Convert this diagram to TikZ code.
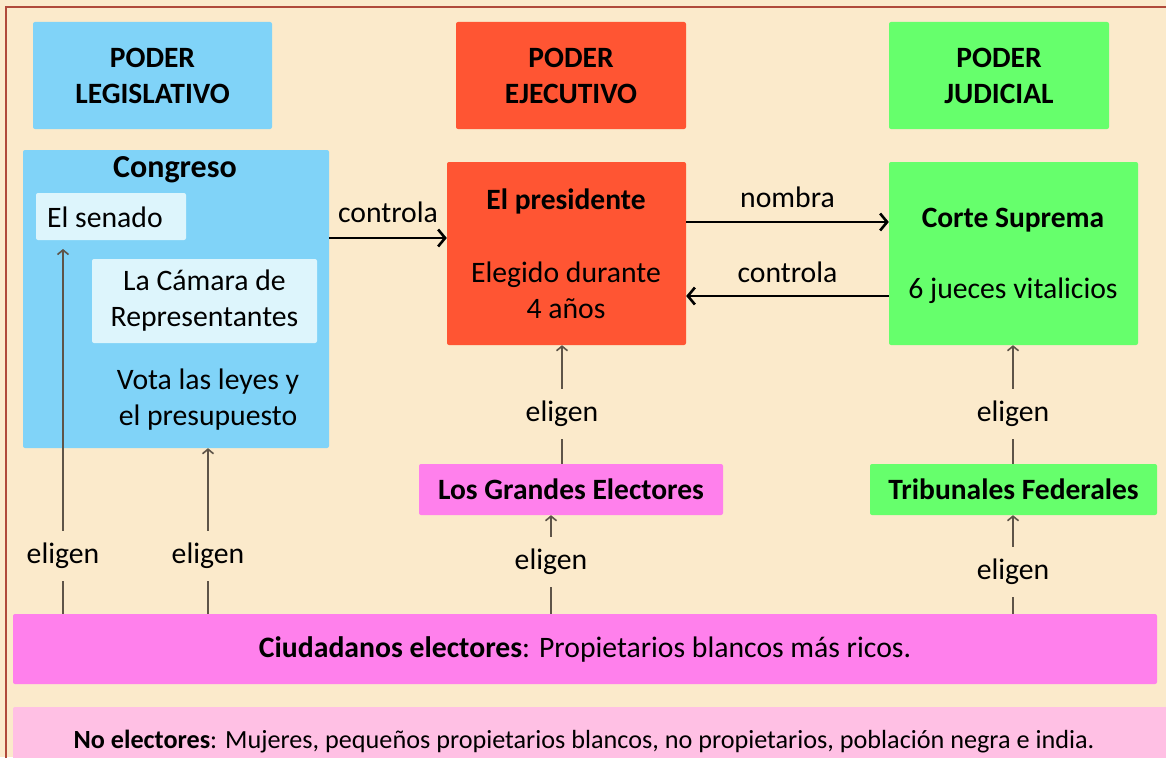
\documentclass[tikz,border=0pt]{standalone}
\usepackage{fontspec}
\setmainfont{Carlito}
\usetikzlibrary{arrows.meta}
\definecolor{bg}{HTML}{FBEACB}
\definecolor{frame}{HTML}{B04A3A}
\definecolor{lblue}{HTML}{80D3F8}
\definecolor{pale}{HTML}{DDF5FC}
\definecolor{pred}{HTML}{FF5533}
\definecolor{pgreen}{HTML}{66FF6C}
\definecolor{pmag}{HTML}{FF80EC}
\definecolor{ppink}{HTML}{FFC0E4}
\definecolor{agray}{HTML}{5E5448}
\tikzset{
  box/.style={rectangle, inner sep=0pt, align=center, rounded corners=2pt},
  body/.style={font=\fontsize{29.7}{36}\selectfont, align=center, inner sep=0pt},
  head/.style={font=\fontsize{29.5}{36}\selectfont\bfseries, align=center, inner sep=0pt},
  blk/.style={line width=2.6pt, -{Straight Barb[length=7pt,width=17pt]}},
  elig/.style={line width=1.6pt, draw=agray, -{Straight Barb[length=4.5pt,width=11pt]}},
  lab/.style={body, fill=bg, inner xsep=3pt, inner ysep=12pt},
}
\begin{document}
\begin{tikzpicture}[x=1pt,y=-1pt]
\useasboundingbox (0,0) rectangle (1166,757);
\fill[bg] (0,0) rectangle (1166,757);
\draw[frame, line width=1.5pt] (6,7) rectangle (1185,780);
% headers
\node[box, fill=lblue, minimum width=239pt, minimum height=107pt, head] (hL) at (152.5,75.5) {PODER\\LEGISLATIVO};
\node[box, fill=pred, minimum width=230pt, minimum height=107pt, head] (hE) at (571,75.5) {PODER\\EJECUTIVO};
\node[box, fill=pgreen, minimum width=220pt, minimum height=107pt, head] (hJ) at (999,75.5) {PODER\\JUDICIAL};
% congreso
\node[box, fill=lblue, minimum width=306pt, minimum height=298pt] (cong) at (176,299) {};
\node[head, font=\fontsize{32}{36}\selectfont\bfseries] (congT) at (175,170) {Congreso};
\node[box, fill=pale, minimum width=150pt, minimum height=47pt] (sen) at (111,216.5) {};
\node[body, anchor=west] (senT) at (47,217) {El senado};
\node[box, fill=pale, minimum width=225pt, minimum height=84pt, body] (cam) at (204.5,301) {La Cámara de\\Representantes};
\node[body] (vota) at (208,400) {Vota las leyes y\\el presupuesto};
% presidente
\node[box, fill=pred, minimum width=239pt, minimum height=183pt] (pres) at (566.5,253.5) {};
\node[head] (presT) at (566,201) {El presidente};
\node[body] (presB) at (566,290) {Elegido durante\\4 años};
% corte
\node[box, fill=pgreen, minimum width=249pt, minimum height=183pt] (corte) at (1013.5,253.5) {};
\node[head] (corteT) at (1013,220) {Corte Suprema};
\node[body] (corteB) at (1013,291) {6 jueces vitalicios};
% electores
\node[box, fill=pmag, minimum width=304pt, minimum height=51pt, head] (gran) at (571,489.5) {Los Grandes Electores};
\node[box, fill=pgreen, minimum width=287pt, minimum height=51pt, head] (trib) at (1013.5,489.5) {Tribunales Federales};
\node[box, fill=pmag, minimum width=1144pt, minimum height=70pt, body] (ciud) at (585,649) {\textbf{Ciudadanos electores}: Propietarios blancos más ricos.};
\node[box, fill=ppink, minimum width=1170pt, minimum height=80pt] (noel) at (598,747) {};
\node[font=\fontsize{26.2}{30}\selectfont, inner sep=0pt] (noelT) at (584,742) {\textbf{No electores}: Mujeres, pequeños propietarios blancos, no propietarios, población negra e india.};
% black arrows
\coordinate (c1) at ([yshift=15.5pt]pres.west);
\coordinate (c2) at ([yshift=31.5pt]corte.west);
\coordinate (c3) at ([yshift=-42.5pt]corte.west);
\draw[blk] (cong.east |- c1) -- node[body, yshift=26pt] {controla} (c1);
\draw[blk] (pres.east |- c2) -- node[body, yshift=25pt] {nombra} (c2);
\draw[blk] (c3) -- node[body, yshift=24pt] {controla} (pres.east |- c3);
% eligen arrows
\coordinate (e1) at (63,249);
\coordinate (e2) at (208,0);
\coordinate (e3) at (551,0);
\coordinate (e4) at (562,0);
\coordinate (e5) at (1013,0);
\draw[elig] (ciud.north -| e1) -- node[lab, pos=0.159] {eligen} (e1);
\draw[elig] (ciud.north -| e2) -- node[lab, pos=0.349] {eligen} (cong.south -| e2);
\draw[elig] (ciud.north -| e3) -- node[lab, pos=0.525] {eligen} (gran.south -| e3);
\draw[elig] (gran.north -| e4) -- node[lab, pos=0.42] {eligen} (pres.south -| e4);
\draw[elig] (trib.north -| e5) -- node[lab, pos=0.42] {eligen} (corte.south -| e5);
\draw[elig] (ciud.north -| e5) -- node[lab, pos=0.424] {eligen} (trib.south -| e5);
\end{tikzpicture}
\end{document}
